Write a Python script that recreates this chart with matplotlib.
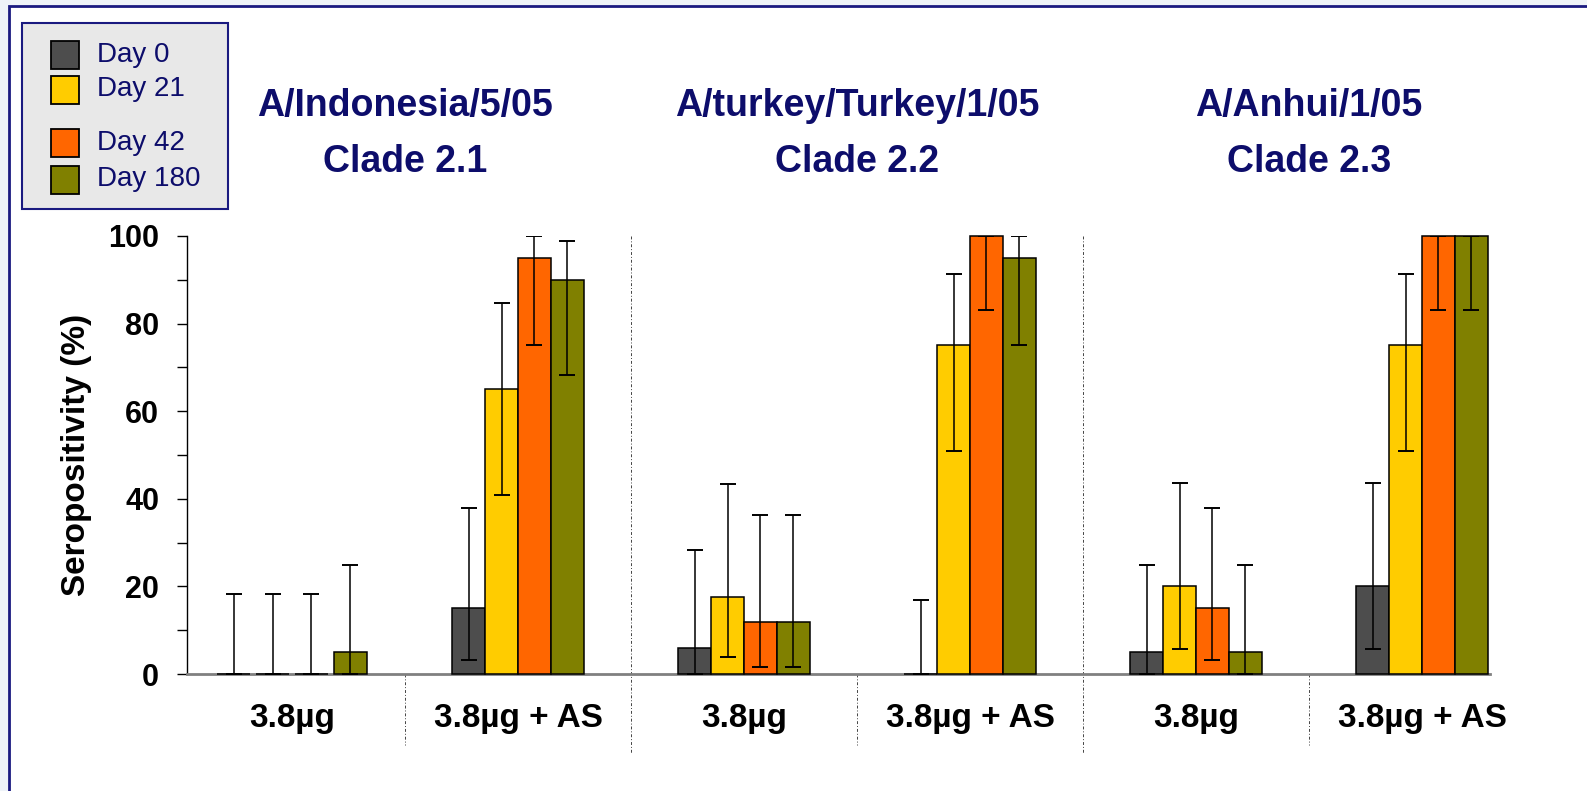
import numpy as np
import matplotlib
matplotlib.use("Agg")
import matplotlib.pyplot as plt
import matplotlib.transforms as mtransforms
from matplotlib.patches import Rectangle

plt.rcParams["font.family"] = ["Liberation Sans", "DejaVu Sans"]

# 六组: 三个毒株 x (3.8µg, 3.8µg + AS)
strains = ["A/Indonesia/5/05\nClade 2.1", "A/turkey/Turkey/1/05\nClade 2.2", "A/Anhui/1/05\nClade 2.3"]
doses = ["3.8µg", "3.8µg + AS"] * 3
days = ["Day 0", "Day 21", "Day 42", "Day 180"]
colors = ["#4D4D4D", "#FFCC00", "#FF6600", "#808000"]

# 血清阳性率 (%) 及 95% CI
day0 = [0, 15, 5.9, 0, 5, 20]
day21 = [0, 65, 17.6, 75, 20, 75]
day42 = [0, 95, 11.8, 100, 15, 100]
day180 = [5, 90, 11.8, 95, 5, 100]

day0_lo = [0, 3.2, 0.1, 0, 0.1, 5.7]
day0_hi = [18.3, 37.9, 28.3, 16.8, 24.9, 43.7]
day21_lo = [0, 40.8, 3.8, 50.9, 5.7, 50.9]
day21_hi = [18.3, 84.6, 43.4, 91.3, 43.7, 91.3]
day42_lo = [0, 75.1, 1.5, 83.2, 3.2, 83.2]
day42_hi = [18.3, 99.9, 36.4, 100, 37.9, 100]
day180_lo = [0.1, 68.3, 1.5, 75.1, 0.1, 83.2]
day180_hi = [24.9, 98.8, 36.4, 99.9, 24.9, 100]

series = [(day0, day0_lo, day0_hi), (day21, day21_lo, day21_hi),
          (day42, day42_lo, day42_hi), (day180, day180_lo, day180_hi)]

W, H = 1587, 791
NAVY = "#0D0D6B"
fig = plt.figure(figsize=(W / 100, H / 100), dpi=100, facecolor="#EEF3F8")


def fx(px):
    return px / W


def fy(py):
    return 1 - py / H


# 白底面板 + 深蓝边框
fig.patches.append(Rectangle((fx(9), fy(H + 20)), 1.2, fy(6) - fy(H + 20), transform=fig.transFigure,
                             facecolor="white", edgecolor="#1A1A80", linewidth=2, zorder=-5))

ax = fig.add_axes([fx(187), fy(674), fx(1490) - fx(187), fy(236) - fy(674)])
ax.set_facecolor("none")
ax.set_zorder(2)

x = np.arange(len(doses))
bw = 0.146
# 第一组柱子 (全为 0) 间距略宽
spread = np.array([1.18, 1, 1, 1, 1, 1])
for k, (vals, lo, hi) in enumerate(series):
    vals = np.array(vals, float)
    yerr = [vals - np.array(lo), np.array(hi) - vals]
    ax.bar(x + (k - 1.5) * bw * spread, vals, bw, color=colors[k], edgecolor="black", linewidth=1.1,
           yerr=yerr, error_kw=dict(ecolor="black", elinewidth=1.1, capsize=6, capthick=1.4),
           clip_on=False, zorder=3)

ax.set_xlim((187 - 292) / 226, (1490 - 292) / 226)
ax.set_ylim(0, 100)
ax.set_yticks(np.arange(0, 101, 20))
ax.set_yticks(np.arange(0, 101, 10), minor=True)
ax.tick_params(axis="y", which="both", direction="out", length=7, width=1, color="black")
ax.tick_params(axis="y", which="major", labelsize=22, pad=13)
for t in ax.get_yticklabels():
    t.set_fontweight("bold")
ax.set_xticks([])
ax.spines["top"].set_visible(False)
ax.spines["right"].set_visible(False)
ax.spines["left"].set_linewidth(1)
ax.spines["bottom"].set_color("#808080")
ax.spines["bottom"].set_linewidth(2)
ax.set_ylabel("Seropositivity (%)", fontsize=24, fontweight="bold", labelpad=12)

tr = mtransforms.blended_transform_factory(ax.transData, fig.transFigure)

# 组间虚线
for i in range(len(doses) - 1):
    xs = i + 0.5
    if i % 2 == 1:
        ax.plot([xs, xs], [fy(236), fy(754)], transform=tr, color="#444444", lw=0.7,
                ls=(0, (3, 2, 1, 2)), clip_on=False)
    else:
        ax.plot([xs, xs], [fy(674), fy(745)], transform=tr, color="#444444", lw=0.7,
                ls=(0, (3, 2, 1, 2)), clip_on=False)

for i, d in enumerate(doses):
    ax.text(i, fy(718), d, transform=tr, ha="center", va="center", fontsize=24, fontweight="bold")

for j, s in enumerate(strains):
    l1, l2 = s.split("\n")
    ax.text(2 * j + 0.5, fy(106), l1, transform=tr, ha="center", va="center",
            fontsize=27, fontweight="bold", color=NAVY)
    ax.text(2 * j + 0.5, fy(162), l2, transform=tr, ha="center", va="center",
            fontsize=27, fontweight="bold", color=NAVY)

# 图例
fig.patches.append(Rectangle((fx(22), fy(209)), fx(228) - fx(22), fy(23) - fy(209), transform=fig.transFigure,
                             facecolor="#E8E8E8", edgecolor="#1A1A80", linewidth=1.5, zorder=1))
leg_y = [55, 89.5, 143, 179.5]
for lab, c, yc in zip(days, colors, leg_y):
    fig.patches.append(Rectangle((fx(51), fy(yc + 14)), fx(79) - fx(51), fy(yc - 14) - fy(yc + 14),
                                 transform=fig.transFigure, facecolor=c, edgecolor="black",
                                 linewidth=1.3, zorder=2))
    fig.text(fx(97), fy(yc), lab, ha="left", va="center", fontsize=20, color=NAVY)

fig.savefig("out.png", dpi=100, facecolor=fig.get_facecolor())
